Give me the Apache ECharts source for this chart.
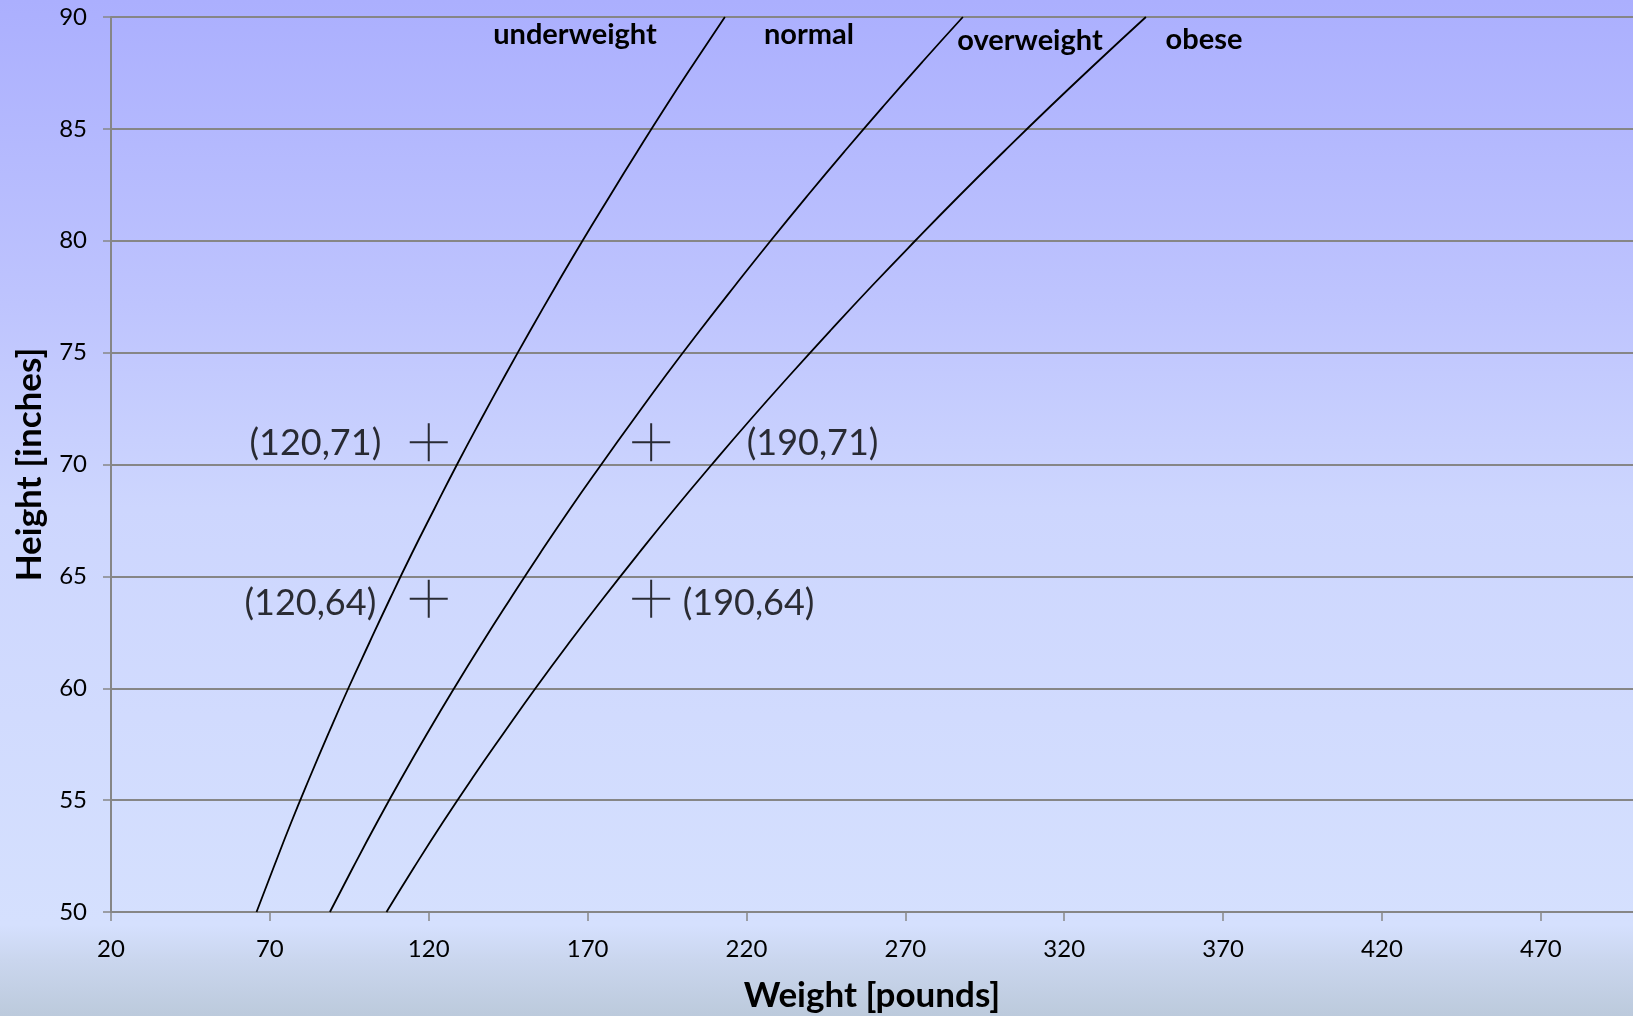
<!DOCTYPE html>
<html>
<head>
<meta charset="utf-8">
<script src="https://cdn.jsdelivr.net/npm/echarts@6/dist/echarts.min.js"></script>
<style>
  html, body { margin: 0; padding: 0; width: 100%; height: 100%; overflow: hidden; }
  #chart { width: 1633px; height: 1016px; }
</style>
</head>
<body>
<div id="chart"></div>
<script>
// Heights (inches) at which the boundary curves were read
const heights = [50, 52, 54, 56, 58, 60, 62, 64, 66, 68, 70, 72, 74, 76, 78, 80, 82, 84, 86, 88, 90];
// Boundary weights (pounds)
const underweightEdge = [65.8, 71.2, 76.7, 82.5, 88.5, 94.7, 101.2, 107.8, 114.6, 121.7, 128.9, 136.4, 144.1, 152.0, 160.1, 168.4, 177.0, 185.7, 194.6, 203.8, 213.2];
const normalEdge = [88.9, 96.2, 103.7, 111.5, 119.6, 128.0, 136.7, 145.7, 154.9, 164.4, 174.3, 184.4, 194.7, 205.4, 216.4, 227.6, 239.1, 250.9, 263.0, 275.4, 288.1];
const overweightEdge = [106.7, 115.4, 124.4, 133.8, 143.6, 153.6, 164.0, 174.8, 185.9, 197.3, 209.1, 221.2, 233.7, 246.5, 259.6, 273.1, 286.9, 301.1, 315.6, 330.5, 345.7];
// Sample points
const sampleWeights = [120, 190, 120, 190];
const sampleHeights = [71, 71, 64, 64];
const sampleLabelSide = ['left', 'right', 'left', 'right'];
// Axis ticks
const xTicks = [20, 70, 120, 170, 220, 270, 320, 370, 420, 470];
const zoneNames = ['underweight', 'normal', 'overweight', 'obese'];

const chart = echarts.init(document.getElementById('chart'));

function curve(weights) {
  return weights.map((w, i) => [w, heights[i]]);
}

const labelDist = [26, 74, 31, 10];
const labelOffset = [[0, 1], [0, 1], [0, 5], [0, 5]];
const samplePoints = sampleWeights.map((w, i) => ({
  value: [w, sampleHeights[i]],
  label: {
    show: true,
    position: sampleLabelSide[i],
    distance: labelDist[i],
    offset: labelOffset[i],
    formatter: '(' + w + ',' + sampleHeights[i] + ')'
  }
}));

const zonePos = [[575, 35], [809, 35], [1030, 41], [1204, 40]];

const option = {
  animation: false,
  backgroundColor: {
    type: 'linear', x: 0, y: 0, x2: 0, y2: 1,
    colorStops: [
      { offset: 0, color: '#ABAFFE' },
      { offset: 0.3, color: '#BEC4FE' },
      { offset: 0.5, color: '#CDD6FE' },
      { offset: 0.91, color: '#D5E0FE' },
      { offset: 0.945, color: '#CAD6EE' },
      { offset: 1, color: '#BCCADC' }
    ]
  },
  textStyle: { fontFamily: 'Lato' },
  grid: { left: 111, right: 0, top: 17, bottom: 104, containLabel: false, outerBoundsMode: 'none' },
  xAxis: {
    type: 'value',
    min: 20,
    max: 499,
    name: 'Weight [pounds]',
    nameLocation: 'middle',
    nameGap: 66,
    nameTextStyle: { fontFamily: 'Lato', fontWeight: 'bold', fontSize: 35, color: '#000' },
    axisLine: { show: true, lineStyle: { color: '#868686', width: 2 } },
    axisTick: { show: true, length: 9, lineStyle: { color: '#868686', width: 1.5 }, customValues: xTicks },
    axisLabel: { fontSize: 24, color: '#000', margin: 25, customValues: xTicks },
    splitLine: { show: false }
  },
  yAxis: {
    type: 'value',
    min: 50,
    max: 90,
    interval: 5,
    name: 'Height [inches]',
    nameLocation: 'middle',
    nameGap: 64,
    nameTextStyle: { fontFamily: 'Lato', fontWeight: 'bold', fontSize: 35, color: '#000' },
    axisLine: { show: true, lineStyle: { color: '#868686', width: 2 } },
    axisTick: { show: true, length: 8, lineStyle: { color: '#868686', width: 1.5 } },
    axisLabel: { fontSize: 24, color: '#000', margin: 24 },
    splitLine: { show: true, lineStyle: { color: '#868686', width: 2 } }
  },
  series: [
    { name: 'BMI 18.5', type: 'line', data: curve(underweightEdge), showSymbol: false, smooth: true, lineStyle: { color: '#000', width: 1.8 } },
    { name: 'BMI 25', type: 'line', data: curve(normalEdge), showSymbol: false, smooth: true, lineStyle: { color: '#000', width: 1.8 } },
    { name: 'BMI 30', type: 'line', data: curve(overweightEdge), showSymbol: false, smooth: true, lineStyle: { color: '#000', width: 1.8 } },
    {
      name: 'samples', type: 'scatter',
      symbol: 'path://M10,0L10,20M0,10L20,10',
      symbolSize: 38,
      itemStyle: { color: 'none', borderColor: '#000', borderWidth: 2 },
      label: { fontSize: 36, color: '#000', fontFamily: 'Lato' },
      data: samplePoints
    }
  ],
  graphic: zoneNames.map((name, i) => ({
    type: 'text',
    x: zonePos[i][0],
    y: zonePos[i][1],
    style: {
      text: name,
      font: 'bold 29px Lato',
      fill: '#000',
      textAlign: 'center',
      textVerticalAlign: 'middle'
    }
  }))
};

chart.setOption(option);
</script>
</body>
</html>
